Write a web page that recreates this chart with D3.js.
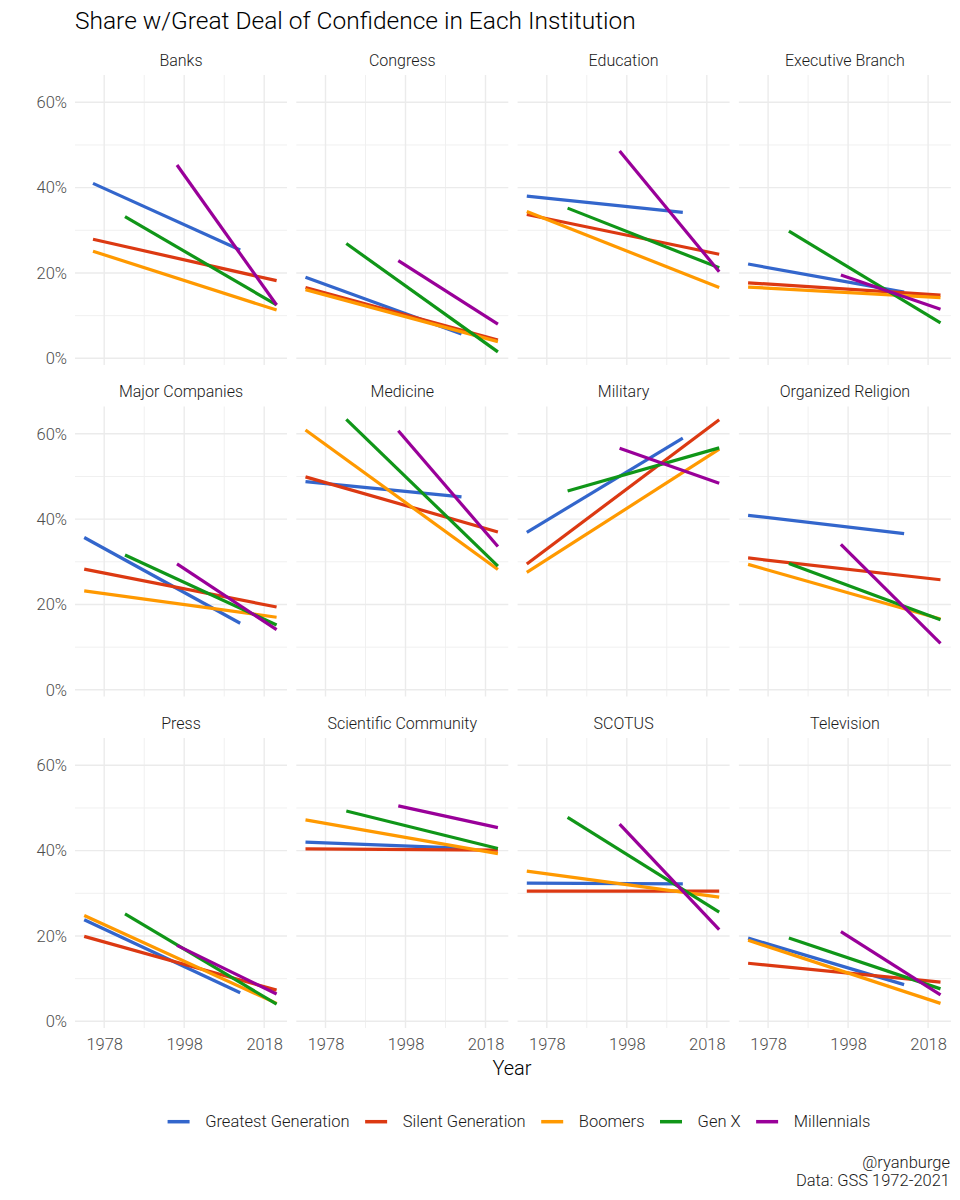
<!DOCTYPE html>
<html>
<head>
<meta charset="utf-8">
<script src="https://cdn.jsdelivr.net/npm/d3@7"></script>
<style>
  body { margin: 0; background: #fff; }
  text { font-family: Roboto, "Noto Sans", sans-serif; font-weight: 300; }
</style>
</head>
<body>
<div id="chart"></div>
<script>
const width = 960;
const height = 1200;

// ----- Data -----
const institutions = [
    "Banks", "Congress", "Education", "Executive Branch",
    "Major Companies", "Medicine", "Military", "Organized Religion",
    "Press", "Scientific Community", "SCOTUS", "Television"
];
const generations = ["Greatest Generation", "Silent Generation", "Boomers", "Gen X", "Millennials"];
const genColors = ["#3366cc", "#dc3912", "#ff9900", "#109618", "#990099"];

const yearTicks = [1978, 1998, 2018];
const yearMinor = [1988, 2008];
const shareTicks = [0, 20, 40, 60];
const shareMinor = [10, 30, 50];

// years each fitted line covers
const institutionFirstYear = [1975.2, 1973, 1973, 1973, 1973, 1973, 1973, 1973, 1973, 1973, 1973, 1973];
const genFirstYear = [1973, 1973, 1973, 1983.2, 1996.2];
const genLastYear = [2012, 2021.1, 2021.1, 2021.1, 2021.1];

// fitted share (%) at first and last year, in institution order
const greatestStart    = [41.0, 19.0, 38.0, 22.1, 35.7, 48.8, 36.9, 40.9, 23.8, 42.0, 32.4, 19.5];
const greatestEnd      = [25.4,  5.7, 34.2, 15.5, 15.6, 45.2, 59.0, 36.6,  6.7, 40.6, 32.2,  8.6];
const silentStart      = [27.9, 16.6, 33.7, 17.7, 28.3, 49.9, 29.5, 30.9, 19.9, 40.4, 30.5, 13.6];
const silentEnd        = [18.2,  4.3, 24.4, 14.8, 19.4, 37.0, 63.3, 25.8,  7.3, 40.1, 30.5,  9.2];
const boomersStart     = [25.1, 16.1, 34.4, 16.7, 23.2, 60.9, 27.5, 29.4, 24.8, 47.2, 35.2, 19.0];
const boomersEnd       = [11.3,  3.9, 16.6, 14.2, 17.0, 28.2, 56.4, 16.6,  4.2, 39.3, 29.1,  4.2];
const genXStart        = [33.2, 26.9, 35.2, 29.8, 31.6, 63.4, 46.6, 29.6, 25.2, 49.3, 47.8, 19.5];
const genXEnd          = [12.5,  1.5, 21.2,  8.3, 15.2, 29.0, 56.7, 16.4,  4.0, 40.5, 25.6,  7.6];
const millennialsStart = [45.3, 22.9, 48.6, 19.5, 29.5, 60.7, 56.6, 34.1, 17.8, 50.5, 46.2, 21.0];
const millennialsEnd   = [12.5,  8.0, 20.3, 11.5, 14.1, 33.6, 48.4, 10.9,  6.4, 45.4, 21.5,  6.2];

const startValues = [greatestStart, silentStart, boomersStart, genXStart, millennialsStart];
const endValues = [greatestEnd, silentEnd, boomersEnd, genXEnd, millennialsEnd];

// ----- Layout -----
const plotLeft = 75, plotTop = 75;
const panelW = 212, panelH = 290;
const colStep = 221.3, rowStep = 331.5;
const ncol = 4;

const svg = d3.select("#chart")
    .append("svg")
    .attr("width", width)
    .attr("height", height);

const x = d3.scaleLinear().domain([1970.7, 2023.7]).range([0, panelW]);
const y = d3.scaleLinear().domain([-1.57, 66.4]).range([panelH, 0]);

const line = d3.line().x(d => x(d[0])).y(d => y(d[1]));

// Title
svg.append("text")
    .attr("x", plotLeft)
    .attr("y", 29)
    .attr("font-size", 24.5)
    .attr("fill", "#000")
    .text("Share w/Great Deal of Confidence in Each Institution");

institutions.forEach((name, i) => {
    const col = i % ncol;
    const row = Math.floor(i / ncol);
    const g = svg.append("g")
        .attr("transform", `translate(${plotLeft + col * colStep}, ${plotTop + row * rowStep})`);

    // strip label
    g.append("text")
        .attr("x", panelW / 2)
        .attr("y", -9.5)
        .attr("text-anchor", "middle")
        .attr("font-size", 16)
        .attr("fill", "#1a1a1a")
        .text(name);

    // minor grid
    g.selectAll(".vminor").data(yearMinor).enter().append("line")
        .attr("x1", d => x(d)).attr("x2", d => x(d))
        .attr("y1", 0).attr("y2", panelH)
        .attr("stroke", "#f0f0f0").attr("stroke-width", 1);
    g.selectAll(".hminor").data(shareMinor).enter().append("line")
        .attr("x1", 0).attr("x2", panelW)
        .attr("y1", d => y(d)).attr("y2", d => y(d))
        .attr("stroke", "#f0f0f0").attr("stroke-width", 1);

    // major grid
    g.selectAll(".vmajor").data(yearTicks).enter().append("line")
        .attr("x1", d => x(d)).attr("x2", d => x(d))
        .attr("y1", 0).attr("y2", panelH)
        .attr("stroke", "#ebebeb").attr("stroke-width", 1.4);
    g.selectAll(".hmajor").data(shareTicks).enter().append("line")
        .attr("x1", 0).attr("x2", panelW)
        .attr("y1", d => y(d)).attr("y2", d => y(d))
        .attr("stroke", "#ebebeb").attr("stroke-width", 1.4);

    // y axis labels on first column
    if (col === 0) {
        const ay = g.append("g")
            .call(d3.axisLeft(y).tickValues(shareTicks).tickFormat(d => d + "%").tickSize(0).tickPadding(8));
        ay.select(".domain").remove();
        ay.selectAll("text").attr("font-size", 16.5).attr("fill", "#4d4d4d").attr("font-family", null);
    }

    // x axis labels on bottom row
    if (row === 2) {
        const ax = g.append("g")
            .attr("transform", `translate(0, ${panelH})`)
            .call(d3.axisBottom(x).tickValues(yearTicks).tickFormat(d3.format("d")).tickSize(0).tickPadding(10));
        ax.select(".domain").remove();
        ax.selectAll("text").attr("font-size", 16.5).attr("fill", "#4d4d4d").attr("font-family", null);
    }

    // fitted lines
    generations.forEach((gen, k) => {
        const x0 = Math.max(institutionFirstYear[i], genFirstYear[k]);
        const pts = [[x0, startValues[k][i]], [genLastYear[k], endValues[k][i]]];
        g.append("path")
            .attr("d", line(pts))
            .attr("fill", "none")
            .attr("stroke", genColors[k])
            .attr("stroke-width", 3.2);
    });
});

// x axis title
svg.append("text")
    .attr("x", 512)
    .attr("y", 1075)
    .attr("text-anchor", "middle")
    .attr("font-size", 20)
    .attr("fill", "#000")
    .text("Year");

// ----- Legend -----
const legend = svg.append("g").attr("transform", "translate(0, 1121.7)");
const items = legend.selectAll("g").data(generations).enter().append("g");
items.append("line")
    .attr("x1", 0).attr("x2", 22)
    .attr("stroke", (d, k) => genColors[k])
    .attr("stroke-width", 3.5);
items.append("text")
    .attr("x", 37.6)
    .attr("dy", "0.35em")
    .attr("font-size", 16.5)
    .attr("fill", "#1a1a1a")
    .text(d => d);

let cursor = 0;
const offsets = [];
items.each(function() {
    offsets.push(cursor);
    const w = d3.select(this).select("text").node().getComputedTextLength();
    cursor += 37.6 + w + 15.5;
});
const total = cursor - 15.5;
const legendStart = 519 - total / 2;
items.attr("transform", (d, k) => `translate(${legendStart + offsets[k]}, 0)`);

// Caption
svg.append("text")
    .attr("x", 950)
    .attr("y", 1167.5)
    .attr("text-anchor", "end")
    .attr("font-size", 16.5)
    .attr("fill", "#1a1a1a")
    .text("@ryanburge");
svg.append("text")
    .attr("x", 950)
    .attr("y", 1186)
    .attr("text-anchor", "end")
    .attr("font-size", 16.5)
    .attr("fill", "#1a1a1a")
    .text("Data: GSS 1972-2021");
</script>
</body>
</html>
